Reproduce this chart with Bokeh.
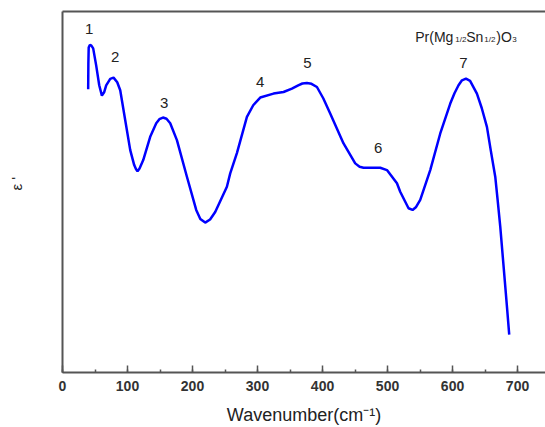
from bokeh.plotting import figure
from bokeh.models import LinearAxis, SingleIntervalTicker, FixedTicker, Range1d
from bokeh.core.properties import value
from bokeh.embed import file_html
from bokeh.resources import INLINE

# Spectrum (arbitrary epsilon' units)
wavenumber = [39.5, 39.8, 40.3, 42.0, 44.2, 47.2, 51.8, 56.5, 60.6, 64.0, 67.2, 73.4, 78.5,
              84.2, 88.8, 96.5, 104.2, 110.3, 113.0, 115.4, 118.5, 124.2, 134.9, 144.2,
              149.0, 154.5, 160.0, 165.7, 176.0, 191.4, 205.7, 212.0, 219.5, 227.0, 234.9,
              252.9, 258.0, 268.3, 283.7, 293.4, 304.2, 324.6, 340.0, 352.9, 362.6, 369.0,
              376.0, 383.0, 391.4, 401.1, 411.8, 432.3, 450.3, 457.0, 463.1, 488.8, 499.1,
              514.5, 519.5, 532.3, 538.5, 544.0, 550.3, 565.7, 581.1, 596.5, 603.0, 609.2,
              614.5, 620.6, 627.0, 637.5, 645.0, 652.9, 659.0, 665.7, 669.5, 673.4, 677.3,
              681.1, 684.2, 687.2]
epsilon = [284, 310, 326, 328.5, 328, 325, 308, 288, 277.7, 281, 288, 294.5, 295.7,
           291, 283, 253, 223, 208, 204, 201.7, 204.5, 213, 236.3, 250,
           254, 255.7, 254.5, 250, 233, 196.3, 163, 154, 150.3, 153.5, 161,
           186.3, 199.7, 220, 256.3, 268, 275.7, 279.7, 281.3, 284.7, 288, 289.8,
           290.3, 289.5, 286.3, 275, 259.7, 229.7, 209.7, 206.3, 205.3, 205.3, 203,
           189.7, 181.3, 164.7, 163, 166, 173, 203, 239.7, 269.7, 280, 288,
           293, 294.7, 292.5, 279.7, 265, 246.3, 222, 196.3, 172, 146.3, 116,
           86.3, 62, 38]

# Mode labels
mode_labels = ["1", "2", "3", "4", "5", "6", "7"]
mode_x = [41, 81.1, 156.5, 304.2, 376.8, 485.7, 616.9]
mode_y = [344, 316, 270, 291, 310, 225, 310]

# Compound formula pieces
formula_text = ["Pr(Mg", "1/2", "Sn", "1/2", ")O", "3"]
formula_x = [542.6, 604.2, 621.1, 648.8, 667.2, 691.8]
formula_y = [336.3, 333.5, 336.3, 333.5, 336.3, 333.5]
formula_sub = [False, True, False, True, False, True]

FONT = "Liberation Sans"
AXIS_COLOR = "#555555"

p = figure(width=545, height=427, output_backend="svg", toolbar_location=None,
           x_range=Range1d(0, 743), y_range=Range1d(0, 362),
           min_border_left=62, min_border_right=0, min_border_top=11, min_border_bottom=54,
           x_axis_location="below", y_axis_location="left")
p.outline_line_color = None
p.grid.visible = False
p.background_fill_color = "white"
p.border_fill_color = "white"

p.line(wavenumber, epsilon, line_color="#0000ff", line_width=2.5)

p.text(x=mode_x, y=mode_y, text=mode_labels, text_align="center", text_baseline="middle",
       text_font=value(FONT), text_font_size="15px", text_color="#222222")

for t, x, y, sub in zip(formula_text, formula_x, formula_y, formula_sub):
    p.text(x=[x], y=[y], text=[t], text_align="left", text_baseline="alphabetic",
           text_font=value(FONT), text_font_size="8px" if sub else "14px",
           text_color="#222222")

# bottom axis
xa = p.xaxis[0]
xa.ticker = SingleIntervalTicker(interval=100, num_minor_ticks=2)
xa.axis_line_color = AXIS_COLOR
xa.axis_line_width = 2
xa.major_tick_in = 7
xa.major_tick_out = 0
xa.minor_tick_in = 3
xa.minor_tick_out = 0
xa.major_tick_line_color = AXIS_COLOR
xa.major_tick_line_width = 1.5
xa.minor_tick_line_color = AXIS_COLOR
xa.minor_tick_line_width = 1.5
xa.major_label_text_font = FONT
xa.major_label_text_font_size = "14px"
xa.major_label_text_font_style = "bold"
xa.major_label_text_color = "#333333"
xa.major_label_standoff = 8
xa.axis_label = "Wavenumber(cm\u207b\u00b9)"
xa.axis_label_text_font = FONT
xa.axis_label_text_font_size = "18px"
xa.axis_label_text_font_style = "normal"
xa.axis_label_text_color = "#222222"
xa.axis_label_standoff = 11

# left axis
ya = p.yaxis[0]
ya.ticker = FixedTicker(ticks=[])
ya.axis_line_color = AXIS_COLOR
ya.axis_line_width = 2
ya.major_tick_out = 0
ya.major_tick_in = 0
ya.minor_tick_out = 0
ya.minor_tick_in = 0
ya.major_label_text_font_size = "0px"
ya.axis_label = "\u00a0\u00a0\u00a0\u00a0\u03b5 '"
ya.axis_label_text_font = FONT
ya.axis_label_text_font_size = "15px"
ya.axis_label_text_font_style = "normal"
ya.axis_label_text_color = "#222222"
ya.axis_label_standoff = 38

# top border as an axis without ticks
top = LinearAxis(ticker=FixedTicker(ticks=[]), axis_line_color=AXIS_COLOR, axis_line_width=2,
                 major_tick_out=0, major_tick_in=0, minor_tick_out=0, minor_tick_in=0,
                 major_label_text_font_size="0px")
p.add_layout(top, "above")

open("out.html", "w").write(file_html(p, INLINE))
